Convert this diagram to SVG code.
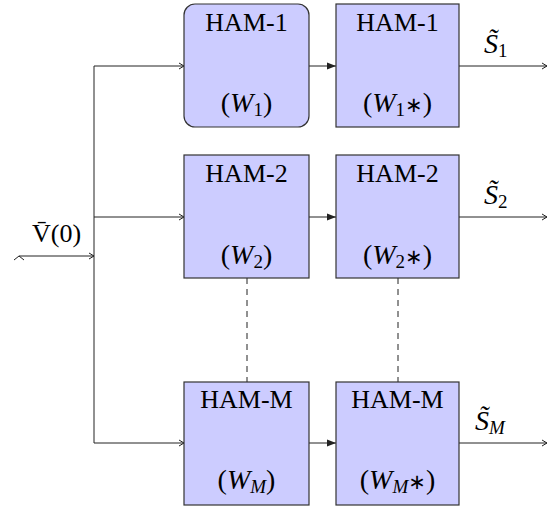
<svg xmlns="http://www.w3.org/2000/svg" width="552" height="508" viewBox="0 0 552 508">
<style>
.box{fill:#ccccff;stroke:#333;stroke-width:1.2}
.ln{fill:none;stroke:#222;stroke-width:1}
.dash{fill:none;stroke:#222;stroke-width:1;stroke-dasharray:6,5}
.t{font-family:"Liberation Serif","Times New Roman",serif;font-size:26px;fill:#000;text-anchor:middle}
.mt{font-family:"Liberation Serif","Times New Roman",serif;font-size:28px;fill:#000;text-anchor:middle}
.m{font-family:"Liberation Serif","Times New Roman",serif;font-size:26px;fill:#000}
.ml{font-family:"Liberation Serif","Times New Roman",serif;font-size:28px;fill:#000}
.i{font-style:italic}
.sub{font-size:19px}
.ast{font-family:"DejaVu Sans",sans-serif;font-size:21px}
</style>
<defs>
<marker id="open" markerWidth="8" markerHeight="8" refX="6" refY="4" orient="auto" markerUnits="userSpaceOnUse">
<path d="M1,1 L6,4 L1,7" fill="none" stroke="#222" stroke-width="1"/>
</marker>
<marker id="fill" markerWidth="10" markerHeight="8" refX="9" refY="4" orient="auto" markerUnits="userSpaceOnUse">
<path d="M0,0.5 L9,4 L0,7.5 Z" fill="#222"/>
</marker>
</defs>
<g id="connectors">
<path class="ln" d="M19,256 H94" marker-end="url(#open)"/>
<path class="ln" d="M14,260 L19,256 L24,260"/>
<path class="ln" d="M94,66 V443"/>
<path class="ln" d="M94,66 H184" marker-end="url(#open)"/>
<path class="ln" d="M94,217 H184" marker-end="url(#open)"/>
<path class="ln" d="M94,443 H184" marker-end="url(#open)"/>
<path class="ln" d="M309,66 H336" marker-end="url(#fill)"/>
<path class="ln" d="M309,217 H336" marker-end="url(#fill)"/>
<path class="ln" d="M309,443 H336" marker-end="url(#fill)"/>
<path class="ln" d="M459,66 H547" marker-end="url(#open)"/>
<path class="ln" d="M459,217 H547" marker-end="url(#open)"/>
<path class="ln" d="M459,443 H547" marker-end="url(#open)"/>
<path class="dash" d="M247,278 V382"/>
<path class="dash" d="M398,278 V382"/>
</g>
<g id="input-label">
<text class="m" x="32" y="242">V̄(0)</text>
</g>
<g id="ham1a">
<rect class="box" x="184" y="4" width="125" height="123" rx="11"/>
<text class="t" x="246.5" y="31">HAM-1</text>
<text class="mt" x="246.5" y="112">(<tspan class="i">W</tspan><tspan class="sub" dy="4">1</tspan><tspan dy="-4">)</tspan></text>
</g>
<g id="ham1b">
<rect class="box" x="336" y="4" width="123" height="123"/>
<text class="t" x="397.5" y="31">HAM-1</text>
<text class="mt" x="397.5" y="112">(<tspan class="i">W</tspan><tspan class="sub" dy="4">1</tspan><tspan class="ast" dy="-4">∗</tspan>)</text>
</g>
<g id="ham2a">
<rect class="box" x="184" y="155" width="125" height="123"/>
<text class="t" x="246.5" y="182">HAM-2</text>
<text class="mt" x="246.5" y="264">(<tspan class="i">W</tspan><tspan class="sub" dy="4">2</tspan><tspan dy="-4">)</tspan></text>
</g>
<g id="ham2b">
<rect class="box" x="336" y="155" width="123" height="123"/>
<text class="t" x="397.5" y="182">HAM-2</text>
<text class="mt" x="397.5" y="264">(<tspan class="i">W</tspan><tspan class="sub" dy="4">2</tspan><tspan class="ast" dy="-4">∗</tspan>)</text>
</g>
<g id="hamMa">
<rect class="box" x="184" y="382" width="125" height="123"/>
<text class="t" x="246.5" y="408">HAM-M</text>
<text class="mt" x="246.5" y="489">(<tspan class="i">W</tspan><tspan class="sub i" dy="4">M</tspan><tspan dy="-4">)</tspan></text>
</g>
<g id="hamMb">
<rect class="box" x="336" y="382" width="123" height="123"/>
<text class="t" x="397.5" y="408">HAM-M</text>
<text class="mt" x="397.5" y="489">(<tspan class="i">W</tspan><tspan class="sub i" dy="4">M</tspan><tspan class="ast" dy="-4">∗</tspan>)</text>
</g>
<g id="outputs">
<text class="ml" x="484" y="53"><tspan class="i">S̃</tspan><tspan class="sub" dy="4">1</tspan></text>
<text class="ml" x="484" y="204"><tspan class="i">S̃</tspan><tspan class="sub" dy="4">2</tspan></text>
<text class="ml" x="475" y="430"><tspan class="i">S̃</tspan><tspan class="sub i" dy="4">M</tspan></text>
</g>
</svg>
